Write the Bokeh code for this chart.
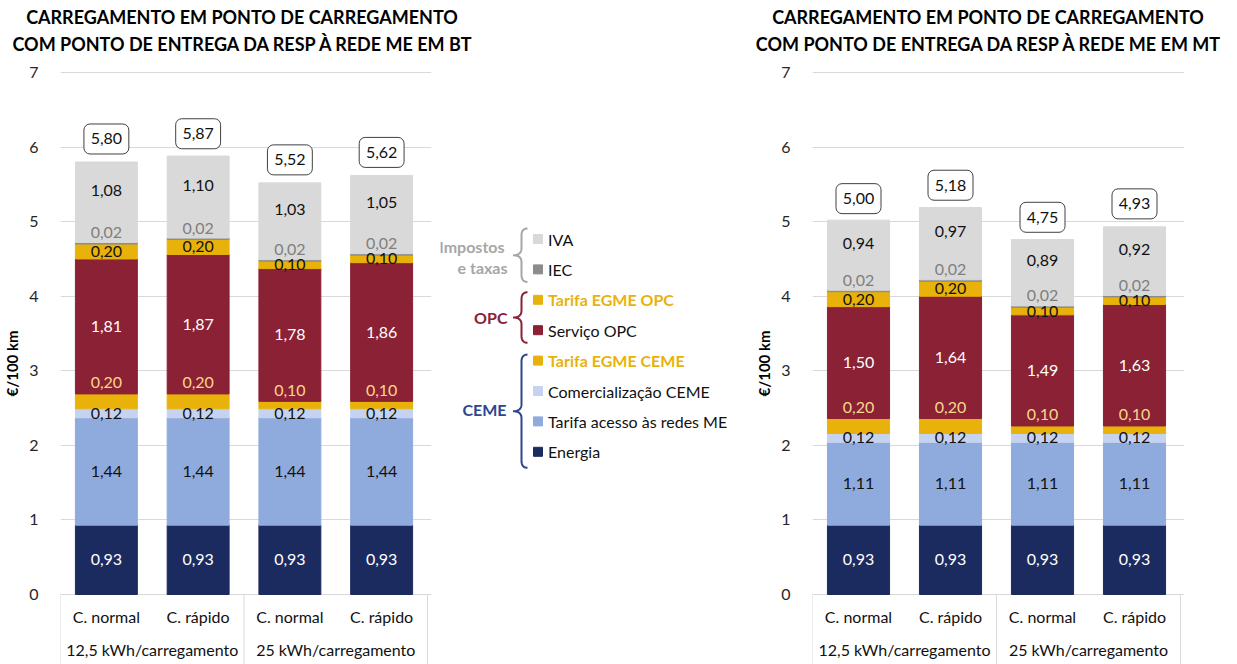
import numpy as np
from bokeh.plotting import figure
from bokeh.models import ColumnDataSource, Range1d, FixedTicker, Div
from bokeh.layouts import row, column
from bokeh.core.properties import value
from bokeh.embed import file_html
from bokeh.resources import INLINE

# ---------------- data ----------------
categories = ["C. normal", "C. rápido", "C. normal", "C. rápido"]
groups = ["12,5 kWh/carregamento", "25 kWh/carregamento"]
series = ["Energia", "Tarifa acesso às redes ME", "Comercialização CEME",
          "Tarifa EGME CEME", "Serviço OPC", "Tarifa EGME OPC", "IEC", "IVA"]

bt_energia = [0.93, 0.93, 0.93, 0.93]
bt_tarifa_acesso = [1.44, 1.44, 1.44, 1.44]
bt_comercializacao = [0.12, 0.12, 0.12, 0.12]
bt_egme_ceme = [0.20, 0.20, 0.10, 0.10]
bt_servico_opc = [1.81, 1.87, 1.78, 1.86]
bt_egme_opc = [0.20, 0.20, 0.10, 0.10]
bt_iec = [0.02, 0.02, 0.02, 0.02]
bt_iva = [1.08, 1.10, 1.03, 1.05]
bt_total = [5.80, 5.87, 5.52, 5.62]

mt_energia = [0.93, 0.93, 0.93, 0.93]
mt_tarifa_acesso = [1.11, 1.11, 1.11, 1.11]
mt_comercializacao = [0.12, 0.12, 0.12, 0.12]
mt_egme_ceme = [0.20, 0.20, 0.10, 0.10]
mt_servico_opc = [1.50, 1.64, 1.49, 1.63]
mt_egme_opc = [0.20, 0.20, 0.10, 0.10]
mt_iec = [0.02, 0.02, 0.02, 0.02]
mt_iva = [0.94, 0.97, 0.89, 0.92]
mt_total = [5.00, 5.18, 4.75, 4.93]

y_ticks = [0, 1, 2, 3, 4, 5, 6, 7]

title_bt = ["CARREGAMENTO EM PONTO DE CARREGAMENTO",
            "COM PONTO DE ENTREGA DA RESP À REDE ME EM BT"]
title_mt = ["CARREGAMENTO EM PONTO DE CARREGAMENTO",
            "COM PONTO DE ENTREGA DA RESP À REDE ME EM MT"]

# ---------------- styles ----------------
FONT = "Lato"
colors = {
    "Energia": "#1C2B5F",
    "Tarifa acesso às redes ME": "#8FAADC",
    "Comercialização CEME": "#C6D3F0",
    "Tarifa EGME CEME": "#E9B20B",
    "Serviço OPC": "#8B2134",
    "Tarifa EGME OPC": "#E9B20B",
    "IEC": "#8C8C8C",
    "IVA": "#D9D9D9",
}
# (anchor, offset in px upward, text colour)
label_style = {
    "Energia": ("center", 0, "#FFFFFF"),
    "Tarifa acesso às redes ME": ("center", 0, "#111111"),
    "Comercialização CEME": ("center", 0, "#111111"),
    "Tarifa EGME CEME": ("top", 11, "#F7D88A"),
    "Serviço OPC": ("center", 0, "#FFFFFF"),
    "Tarifa EGME OPC": ("center", 0, "#111111"),
    "IEC": ("top", 10, "#7F7F7F"),
    "IVA": ("center", 12, "#111111"),
}

TOP = 62          # height of the title band
H = 664 - TOP     # height of the chart row
UNIT_PX = 74.57
Y_MIN, Y_MAX = -70 / UNIT_PX, 7 + 10 / UNIT_PX
X_PX = 92
X_MAX = 4 + 4 / X_PX
GRID = "#D9D9D9"


def fmt(v):
    return f"{v:.2f}".replace(".", ",")


def make_chart(stack, totals, width, left, right):
    xs = [0.5, 1.5, 2.5, 3.5]
    p = figure(width=width, height=H, title=None,
               x_range=Range1d(0, X_MAX), y_range=Range1d(Y_MIN, Y_MAX),
               output_backend="svg", toolbar_location=None, x_axis_location=None,
               min_border_left=left, min_border_right=right,
               min_border_top=0, min_border_bottom=0)
    p.outline_line_color = None
    p.background_fill_color = "white"
    p.border_fill_color = "white"

    p.xgrid.visible = False
    ticker = FixedTicker(ticks=y_ticks)
    p.yaxis.ticker = ticker
    p.ygrid.ticker = ticker
    p.ygrid.grid_line_color = GRID
    p.ygrid.grid_line_width = 1
    p.yaxis.axis_line_color = None
    p.yaxis.major_tick_line_color = None
    p.yaxis.minor_tick_line_color = None
    p.yaxis.major_label_standoff = 16
    p.yaxis.major_label_text_font = FONT
    p.yaxis.major_label_text_font_size = "16px"
    p.yaxis.major_label_text_color = "#262626"
    p.yaxis.axis_label = "€/100 km"
    p.yaxis.axis_label_text_font = FONT
    p.yaxis.axis_label_text_font_size = "15px"
    p.yaxis.axis_label_text_font_style = "bold"
    p.yaxis.axis_label_text_color = "#000000"
    p.yaxis.axis_label_standoff = 5

    data = dict(x=xs)
    for name, vals in zip(series, stack):
        data[name] = vals
    src = ColumnDataSource(data)
    p.vbar_stack(series, x="x", width=0.675, source=src,
                 color=[colors[s] for s in series])

    bottoms = np.zeros(4)
    for name, vals in zip(series, stack):
        vals = np.array(vals, dtype=float)
        tops = bottoms + vals
        anchor, off, tcol = label_style[name]
        if anchor == "center":
            ys = (bottoms + tops) / 2 + off / UNIT_PX
        else:
            ys = tops + off / UNIT_PX
        p.text(x=xs, y=list(ys), text=[fmt(v) for v in vals],
               text_font=value(FONT), text_font_size="16px", text_color=tcol,
               text_align="center", text_baseline="middle")
        bottoms = tops

    # totals in rounded boxes
    centres = np.array(totals) + 23 / UNIT_PX
    half_w = 22.5 / X_PX
    half_h = 15 / UNIT_PX
    p.quad(left=[x - half_w for x in xs], right=[x + half_w for x in xs],
           bottom=list(centres - half_h), top=list(centres + half_h),
           fill_color="white", line_color="#404040", line_width=1,
           border_radius=6)
    p.text(x=xs, y=list(centres), text=[fmt(t) for t in totals],
           text_font=value(FONT), text_font_size="16px", text_color="#111111",
           text_align="center", text_baseline="middle")

    # category axis (two levels) with separators
    p.segment(x0=[0, 2, 4], y0=[0, 0, 0], x1=[0, 2, 4], y1=[Y_MIN] * 3,
              line_color=GRID, line_width=1)
    p.text(x=xs, y=[-22.5 / UNIT_PX] * 4, text=categories,
           text_font=value(FONT), text_font_size="16px", text_color="#111111",
           text_align="center", text_baseline="middle")
    p.text(x=[1, 3], y=[-55 / UNIT_PX] * 2, text=groups,
           text_font=value(FONT), text_font_size="16px", text_color="#111111",
           text_align="center", text_baseline="middle")
    return p


left = make_chart([bt_energia, bt_tarifa_acesso, bt_comercializacao, bt_egme_ceme,
                   bt_servico_opc, bt_egme_opc, bt_iec, bt_iva],
                  bt_total, width=440, left=59, right=9)
right = make_chart([mt_energia, mt_tarifa_acesso, mt_comercializacao, mt_egme_ceme,
                    mt_servico_opc, mt_egme_opc, mt_iec, mt_iva],
                   mt_total, width=492, left=67, right=53)

# ---------------- legend panel ----------------
LW = 305
lg = figure(width=LW, height=H, x_range=Range1d(0, LW), y_range=Range1d(H, 0),
            output_backend="svg", toolbar_location=None,
            x_axis_location=None, y_axis_location=None,
            min_border=0, title=None)
lg.outline_line_color = None
lg.grid.visible = False

legend_items = list(reversed(series))
legend_labels = ["IVA", "IEC", "Tarifa EGME OPC", "Serviço OPC", "Tarifa EGME CEME",
                 "Comercialização CEME", "Tarifa acesso às redes ME", "Energia"]
item_y = [238.5 - TOP + 30.4 * i for i in range(len(legend_items))]
lg.rect(x=[97.5] * len(item_y), y=item_y, width=9, height=9,
        color=[colors[s] for s in legend_items])
for lab, yy in zip(legend_labels, item_y):
    bold = lab.startswith("Tarifa EGME")
    lg.text(x=[107.5], y=[yy], text=[lab], text_font=value(FONT),
            text_font_size="16px",
            text_font_style="bold" if bold else "normal",
            text_color="#E9B20B" if bold else "#111111",
            text_align="left", text_baseline="middle")


def brace(x_line, x_tip, x_end, y_top, y_bot, r=7):
    mid = (y_top + y_bot) / 2
    t = np.linspace(0, 1, 12)

    def quad(p0, c, p1):
        return ((1 - t) ** 2 * p0[0] + 2 * (1 - t) * t * c[0] + t ** 2 * p1[0],
                (1 - t) ** 2 * p0[1] + 2 * (1 - t) * t * c[1] + t ** 2 * p1[1])

    parts = [
        quad((x_end, y_top), (x_line, y_top), (x_line, y_top + r)),
        quad((x_line, mid - r), (x_line, mid), (x_tip, mid)),
        quad((x_tip, mid), (x_line, mid), (x_line, mid + r)),
        quad((x_line, y_bot - r), (x_line, y_bot), (x_end, y_bot)),
    ]
    bx = np.concatenate([pp[0] for pp in parts])
    by = np.concatenate([pp[1] for pp in parts])
    return list(bx), list(by)


group_defs = [
    ("#A6A6A6", item_y[0] - 10.5, item_y[1] + 12.5,
     [("Impostos", 64, 246 - TOP), ("e taxas", 67, 267 - TOP)]),
    ("#8B2134", item_y[2] - 7.5, item_y[3] + 12.5, [("OPC", 67, 317 - TOP)]),
    ("#2E4591", item_y[4] - 6, item_y[7] + 16, [("CEME", 66, 409 - TOP)]),
]
for col, yt, yb, labs in group_defs:
    bx, by = brace(81, 72.5, 87, yt, yb)
    lg.line(bx, by, line_color=col, line_width=2)
    for txt, xr, yy in labs:
        lg.text(x=[xr], y=[yy], text=[txt], text_font=value(FONT),
                text_font_size="16px", text_font_style="bold", text_color=col,
                text_align="right", text_baseline="middle")

# ---------------- titles band ----------------
def title_block(lines, left_px, width_px):
    return (f'<div style="position:absolute;left:{left_px}px;top:4px;width:{width_px}px;'
            f'text-align:center;">' + "<br>".join(lines) + "</div>")


titles = Div(
    text=('<div style="position:relative;width:1237px;height:62px;'
          'font-family:Lato;font-weight:bold;font-size:18px;line-height:27px;'
          'color:#000000;white-space:nowrap;">'
          + title_block(title_bt, 0, 484) + title_block(title_mt, 739, 498) + "</div>"),
    width=1237, height=TOP, margin=0)

layout = column(titles, row(left, lg, right, spacing=0), spacing=0)
open("out.html", "w").write(file_html(layout, INLINE))
